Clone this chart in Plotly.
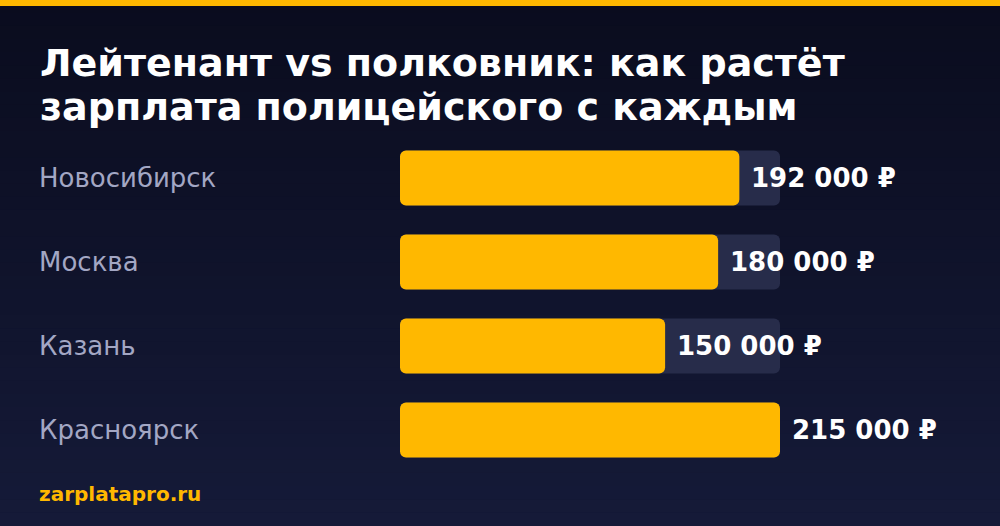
import plotly.graph_objects as go

# data
cities = ['Новосибирск', 'Москва', 'Казань', 'Красноярск']
salaries = [192000, 180000, 150000, 215000]
value_labels = ['192 000 ₽', '180 000 ₽', '150 000 ₽', '215 000 ₽']
max_salary = 215000

title_lines = ['Лейтенант vs полковник: как растёт',
               'зарплата полицейского с каждым']
footer = 'zarplatapro.ru'

W, H = 1000, 526
yellow = '#FFB800'
track = '#272c4a'
font = 'DejaVu Sans'

fig = go.Figure()

# grey track behind every bar (explicit base -> both ends rounded)
fig.add_trace(go.Bar(
    x=[max_salary] * len(cities), base=[0] * len(cities), y=cities,
    orientation='h', marker=dict(color=track, line=dict(width=0)),
    width=0.655, hoverinfo='skip', showlegend=False,
))
# yellow salary bar
fig.add_trace(go.Bar(
    x=salaries, base=[0] * len(cities), y=cities,
    orientation='h', marker=dict(color=yellow, line=dict(width=0)),
    width=0.655, showlegend=False,
))

annotations = []
for city, val, lab in zip(cities, salaries, value_labels):
    # city name at the left
    annotations.append(dict(
        x=0.04, xref='paper', y=city, yref='y', text=city, xshift=-3,
        xanchor='left', yanchor='middle', showarrow=False,
        font=dict(family=font, size=26, color='#a3a7c4'),
    ))
    # value after the bar end
    annotations.append(dict(
        x=val, xref='x', y=city, yref='y', text=lab,
        xanchor='left', yanchor='middle', xshift=10, showarrow=False,
        font=dict(family=font, size=26, color='white', weight='bold'),
    ))

# title, two lines
for i, line in enumerate(title_lines):
    annotations.append(dict(
        x=0.04, xref='paper', y=1 - (63 + 44 * i) / H, yref='paper',
        text='<b>' + line + '</b>', xanchor='left', yanchor='middle', xshift=-2,
        showarrow=False, font=dict(family=font, size=38, color='white'),
    ))
annotations.append(dict(
    x=0.04, xref='paper', y=1 - 494 / H, yref='paper', xshift=-3,
    text='<b>' + footer + '</b>', xanchor='left', yanchor='middle',
    showarrow=False, font=dict(family=font, size=20, color=yellow),
))

# background gradient + top strip
shapes = []
n = 40
c0 = (10, 12, 30)
c1 = (21, 26, 56)
for i in range(n):
    t = i / (n - 1)
    c = tuple(round(a + (b - a) * t) for a, b in zip(c0, c1))
    shapes.append(dict(
        type='rect', xref='paper', yref='paper', layer='below',
        x0=0, x1=1, y0=1 - (i + 1) / n, y1=1 - i / n + 0.001,
        fillcolor='rgb(%d,%d,%d)' % c, line=dict(width=0),
    ))
shapes.append(dict(
    type='rect', xref='paper', yref='paper', layer='above',
    x0=0, x1=1, y0=1 - 6 / H, y1=1.01,
    fillcolor=yellow, line=dict(width=0),
))

fig.update_layout(
    width=W, height=H,
    margin=dict(l=0, r=0, t=0, b=0),
    paper_bgcolor='#0f1228', plot_bgcolor='rgba(0,0,0,0)',
    barmode='overlay', barcornerradius=6,
    xaxis=dict(domain=[0.4, 0.78], range=[0, max_salary], visible=False, fixedrange=True),
    yaxis=dict(domain=[(H - 472) / H, (H - 136) / H], range=[3.5, -0.5],
               visible=False, fixedrange=True),
    annotations=annotations, shapes=shapes,
)

fig.write_html('out.html', config={'displayModeBar': False},
               post_script="document.body.style.margin='0';")
